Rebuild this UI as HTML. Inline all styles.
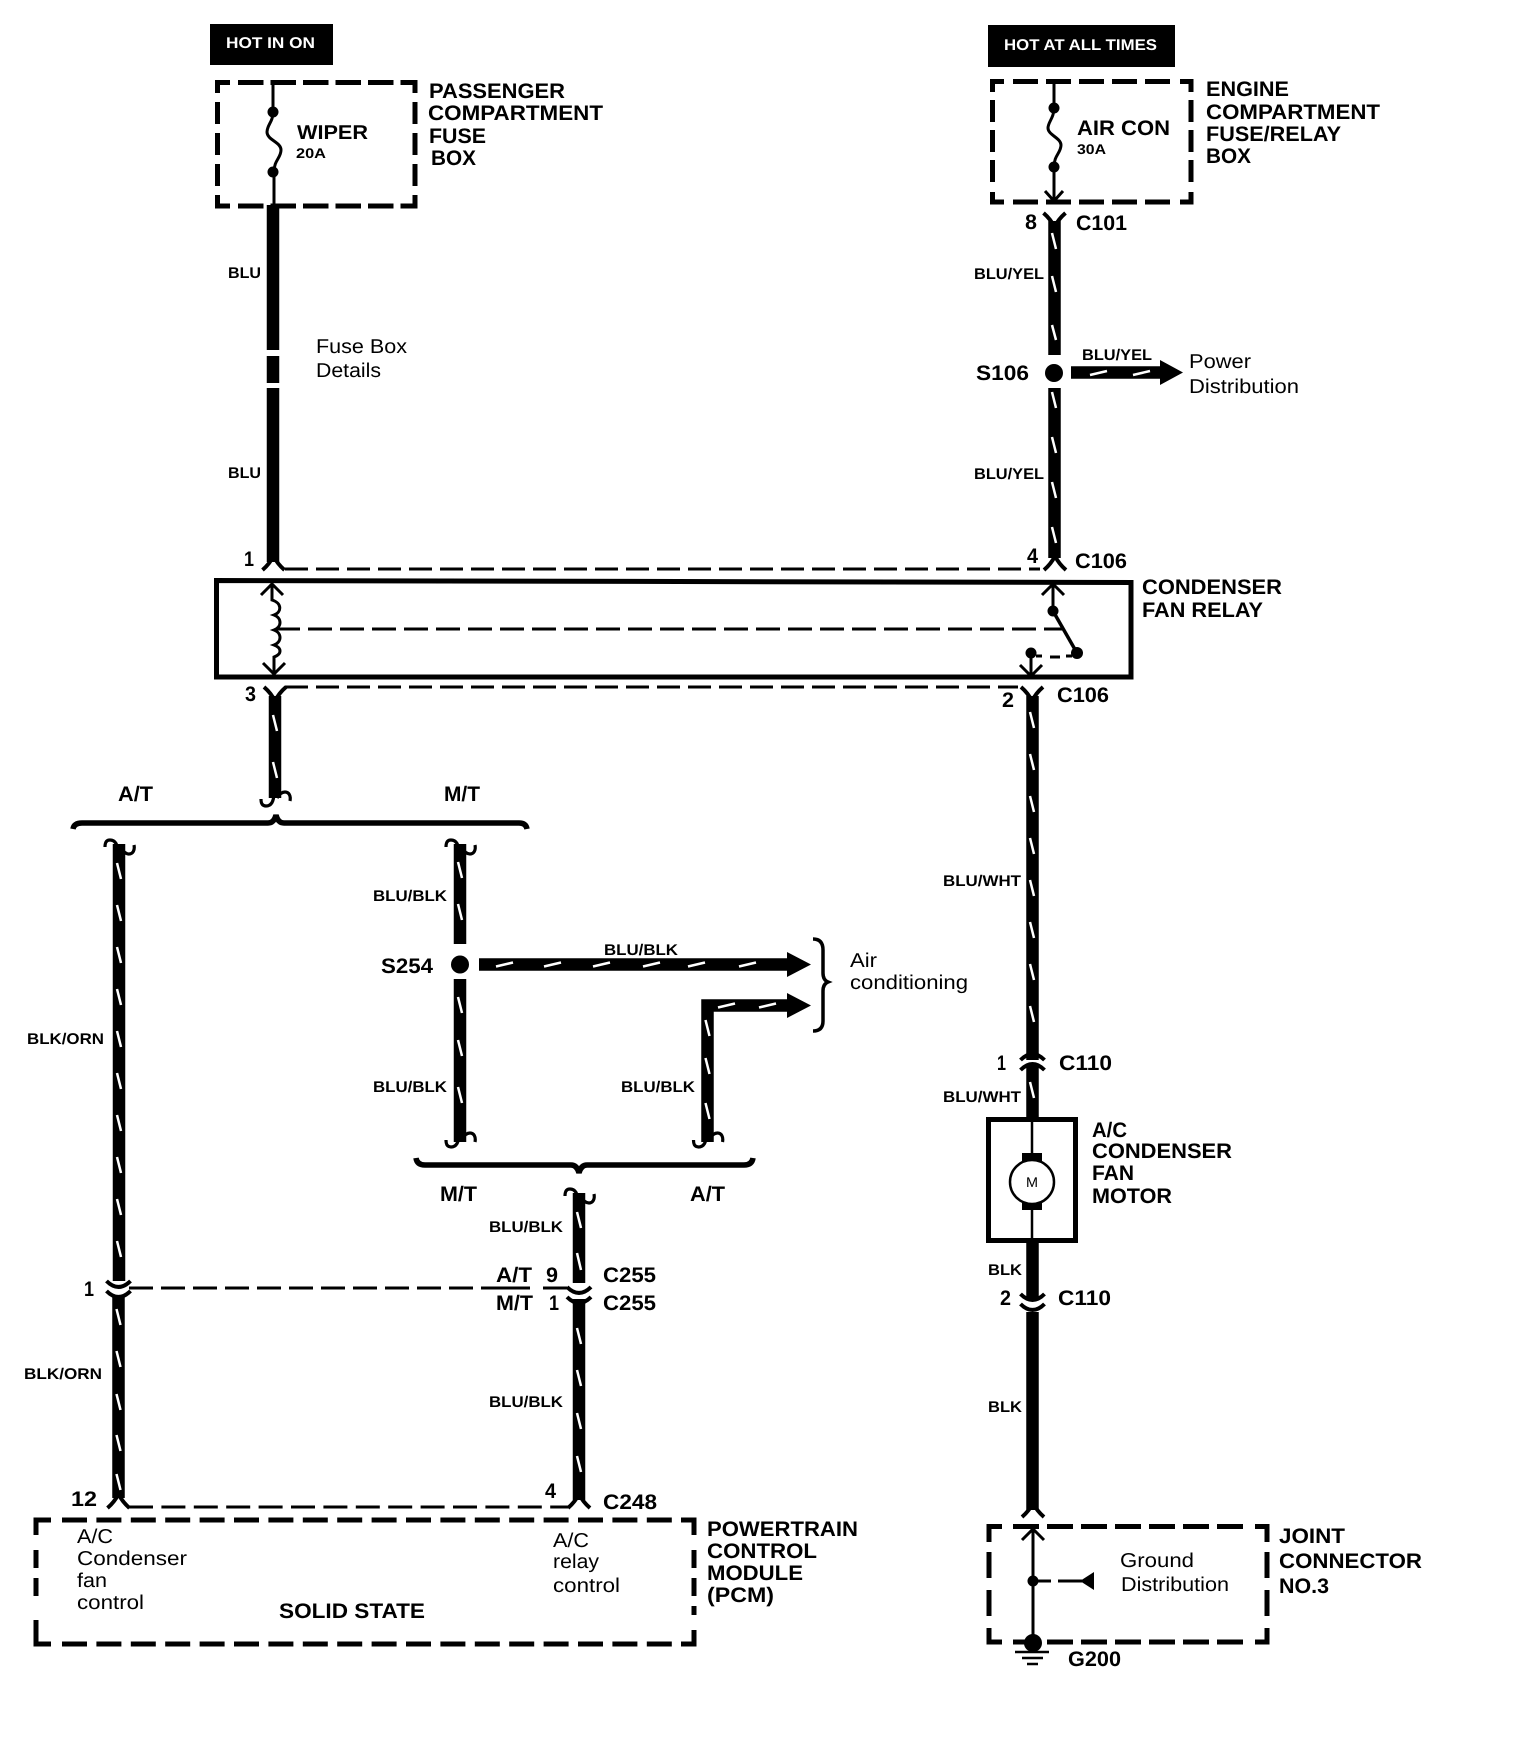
<!DOCTYPE html>
<html><head><meta charset="utf-8"><title>Condenser fan circuit</title>
<style>
html,body{margin:0;padding:0;background:#fff;width:1520px;height:1756px;overflow:hidden}
svg{display:block}
text{font-family:"Liberation Sans",sans-serif;fill:#000;text-rendering:geometricPrecision}
.b{font-weight:bold}
.L{font-weight:bold;font-size:21px}
.W{font-weight:bold;font-size:15.5px}
.R{font-size:20px}
.d{fill:none;stroke:#000;stroke-width:5}
.t{fill:none;stroke:#000;stroke-width:3}
.w{stroke:#000;stroke-width:12.5;fill:none}
.s{stroke:#fff;stroke-width:2.5;fill:none}
</style></head><body>
<svg width="1520" height="1756" viewBox="0 0 1520 1756" xmlns="http://www.w3.org/2000/svg">
<defs>
<g id="h"><path d="M-1 -10C-1 0-4 4-9 4C-13 4-14 1-14-3M2-4C5-9 8-10 10-10C14-10 16-6 15-1" fill="none" stroke="#000" stroke-width="3.2"/></g>
<g id="f"><path d="M-11 4Q-4-2 0-10Q4-2 11 4" fill="none" stroke="#000" stroke-width="4"/></g>
<g id="c"><path d="M-12-8Q0 4 12-8M-12 2Q0 14 12 2" fill="none" stroke="#000" stroke-width="4"/></g>
<g id="a"><path d="M-11 11L0 0L11 11M0 0V12" fill="none" stroke="#000" stroke-width="3"/></g>
</defs>
<rect width="1520" height="1756" fill="#fff"/>

<!-- power tags -->
<rect x="210" y="24" width="123" height="41" fill="#000"/>
<text x="226" y="48" class="b" font-size="15.5" style="fill:#fff" textLength="89" lengthAdjust="spacingAndGlyphs">HOT IN ON</text>
<rect x="988" y="25" width="187" height="42" fill="#000"/>
<text x="1004" y="50" class="b" font-size="15.5" style="fill:#fff" textLength="153" lengthAdjust="spacingAndGlyphs">HOT AT ALL TIMES</text>

<!-- passenger box -->
<path class="d" d="M217.5 93V82.5H230M403 82.5H415V93M415 195V206H403M230 206H217.5V195"/>
<path class="d" stroke-dasharray="25.5 7" d="M238 82.5H403M238 206H403"/>
<path class="d" stroke-dasharray="22 9" d="M217.5 102V190M415 102V190"/>
<path class="t" d="M273 82V112C273 122 267 125 267 132C267 140 281 142 281 150C281 158 274 160 274 172V206"/>
<circle cx="273" cy="112" r="5.5"/><circle cx="273" cy="172" r="5.5"/>
<text x="297" y="139" class="b" font-size="20" textLength="71" lengthAdjust="spacingAndGlyphs">WIPER</text>
<text x="296" y="158" class="b" font-size="14" textLength="30" lengthAdjust="spacingAndGlyphs">20A</text>
<text x="429" y="98" class="L" textLength="136" lengthAdjust="spacingAndGlyphs">PASSENGER</text>
<text x="428" y="120" class="L" textLength="175" lengthAdjust="spacingAndGlyphs">COMPARTMENT</text>
<text x="429" y="143" class="L" textLength="57" lengthAdjust="spacingAndGlyphs">FUSE</text>
<text x="431" y="165" class="L" textLength="45" lengthAdjust="spacingAndGlyphs">BOX</text>

<!-- engine box -->
<path class="d" d="M992.5 92V81.5H1004M1180 81.5H1191V92M1191 192V202H1180M1004 202H992.5V192"/>
<path class="d" stroke-dasharray="25 8" d="M1013 81.5H1171M1013 202H1171"/>
<path class="d" stroke-dasharray="22 8" d="M992.5 100V184M1191 100V184"/>
<path class="t" d="M1054 82V108C1054 118 1048 122 1048 128C1048 135 1061 138 1061 145C1061 153 1054 155 1054 167V203"/>
<path class="t" d="M1045 191L1054 201L1063 191"/>
<circle cx="1054" cy="108" r="5.5"/><circle cx="1054" cy="167" r="5.5"/>
<text x="1077" y="135" class="b" font-size="21" textLength="93" lengthAdjust="spacingAndGlyphs">AIR CON</text>
<text x="1077" y="154" class="b" font-size="14" textLength="29" lengthAdjust="spacingAndGlyphs">30A</text>
<text x="1206" y="96" class="L" textLength="83" lengthAdjust="spacingAndGlyphs">ENGINE</text>
<text x="1206" y="119" class="L" textLength="174" lengthAdjust="spacingAndGlyphs">COMPARTMENT</text>
<text x="1206" y="141" class="L" textLength="135" lengthAdjust="spacingAndGlyphs">FUSE/RELAY</text>
<text x="1206" y="163" class="L" textLength="45" lengthAdjust="spacingAndGlyphs">BOX</text>

<!-- left top wire -->
<path class="w" d="M273 205V350M273 356V383M273 388V562"/>
<text x="228" y="278" class="W" textLength="33" lengthAdjust="spacingAndGlyphs">BLU</text>
<text x="228" y="478" class="W" textLength="33" lengthAdjust="spacingAndGlyphs">BLU</text>
<text x="316" y="353" class="R" textLength="91" lengthAdjust="spacingAndGlyphs">Fuse Box</text>
<text x="316" y="377" class="R" textLength="65" lengthAdjust="spacingAndGlyphs">Details</text>

<!-- right top wire -->
<path class="w" d="M1054.5 221V355M1054.5 388V558"/>
<use href="#f" transform="translate(1054.5 217) scale(1 -1)"/>
<text x="1025" y="229" class="L" textLength="12" lengthAdjust="spacingAndGlyphs">8</text>
<text x="1076" y="230" class="L" textLength="51" lengthAdjust="spacingAndGlyphs">C101</text>
<text x="974" y="279" class="W" textLength="70" lengthAdjust="spacingAndGlyphs">BLU/YEL</text>
<text x="974" y="479" class="W" textLength="70" lengthAdjust="spacingAndGlyphs">BLU/YEL</text>
<circle cx="1054" cy="373" r="9"/>
<text x="976" y="380" class="L" textLength="53" lengthAdjust="spacingAndGlyphs">S106</text>
<path class="w" d="M1071 372.5H1162"/>
<path d="M1160 360L1183 372.5L1160 385Z"/>
<text x="1082" y="360" class="W" textLength="70" lengthAdjust="spacingAndGlyphs">BLU/YEL</text>
<text x="1189" y="368" class="R" textLength="62" lengthAdjust="spacingAndGlyphs">Power</text>
<text x="1189" y="393" class="R" textLength="110" lengthAdjust="spacingAndGlyphs">Distribution</text>

<!-- upper C106 -->
<use href="#f" transform="translate(273.5 566)"/>
<use href="#f" transform="translate(1055 566)"/>
<path d="M285 569H1040" fill="none" stroke="#000" stroke-width="3" stroke-dasharray="23 8"/>
<text x="244" y="566" class="L" textLength="10" lengthAdjust="spacingAndGlyphs">1</text>
<text x="1027" y="563" class="L" textLength="11" lengthAdjust="spacingAndGlyphs">4</text>
<text x="1075" y="568" class="L" textLength="52" lengthAdjust="spacingAndGlyphs">C106</text>

<!-- relay -->
<path d="M216.5 580.5L1131 582.5V677H216.5Z" fill="none" stroke="#000" stroke-width="5"/>
<text x="1142" y="594" class="L" textLength="140" lengthAdjust="spacingAndGlyphs">CONDENSER</text>
<text x="1142" y="617" class="L" textLength="121" lengthAdjust="spacingAndGlyphs">FAN RELAY</text>
<use href="#a" transform="translate(272 584)"/>
<use href="#a" transform="translate(274 674) scale(1 -1)"/>
<path class="t" d="M272 584V600C282 603 282 612 274 615C282 618 282 627 274 630C282 633 282 642 274 645C282 648 282 654 274 657V674"/>
<path d="M276 629H1062" fill="none" stroke="#000" stroke-width="3" stroke-dasharray="24 8"/>
<use href="#a" transform="translate(1053 584)"/>
<path class="t" d="M1053 584V611"/>
<path d="M1053 611L1077 653" fill="none" stroke="#000" stroke-width="3.5"/>
<circle cx="1053" cy="611" r="5.5"/><circle cx="1077" cy="653" r="6"/>
<circle cx="1031" cy="653" r="5.5"/>
<path class="t" d="M1031 653V676"/>
<use href="#a" transform="translate(1031 676) scale(1 -1)"/>
<path d="M1036 656H1042M1050 657H1060M1066 656H1072" fill="none" stroke="#000" stroke-width="3"/>

<!-- lower C106 -->
<path d="M285 687H1018" fill="none" stroke="#000" stroke-width="3" stroke-dasharray="23 8"/>
<use href="#f" transform="translate(275 691) scale(1 -1)"/>
<use href="#f" transform="translate(1032 691) scale(1 -1)"/>
<text x="245" y="701" class="L" textLength="11" lengthAdjust="spacingAndGlyphs">3</text>
<text x="1002" y="707" class="L" textLength="12" lengthAdjust="spacingAndGlyphs">2</text>
<text x="1057" y="702" class="L" textLength="52" lengthAdjust="spacingAndGlyphs">C106</text>

<!-- A/T M/T split -->
<path class="w" d="M275 696V798"/>
<use href="#h" transform="translate(275 802)"/>
<text x="118" y="801" class="b" font-size="21" textLength="35" lengthAdjust="spacingAndGlyphs">A/T</text>
<text x="444" y="801" class="b" font-size="21" textLength="36" lengthAdjust="spacingAndGlyphs">M/T</text>
<path d="M73 829Q74 823 82 823H268Q274 823 276 815Q278 823 284 823H519Q526 823 527 829" fill="none" stroke="#000" stroke-width="5.5"/>
<use href="#h" transform="translate(119 844) scale(1 -1)"/>
<use href="#h" transform="translate(460 844) scale(1 -1)"/>

<!-- left wire -->
<path class="w" d="M119 844V1281M118.5 1297V1498"/>
<text x="27" y="1044" class="W" textLength="77" lengthAdjust="spacingAndGlyphs">BLK/ORN</text>
<text x="24" y="1379" class="W" textLength="78" lengthAdjust="spacingAndGlyphs">BLK/ORN</text>
<use href="#c" transform="translate(118.5 1289)"/>
<text x="84" y="1296" class="L" textLength="10" lengthAdjust="spacingAndGlyphs">1</text>
<path d="M129 1288H498" fill="none" stroke="#000" stroke-width="3" stroke-dasharray="24 8"/>
<path d="M498 1288H530M543 1288H567" fill="none" stroke="#000" stroke-width="3"/>

<!-- M/T wire -->
<path class="w" d="M460 844V944M460 979V1142"/>
<use href="#h" transform="translate(460 1143)"/>
<circle cx="460" cy="964.5" r="9"/>
<text x="373" y="901" class="W" textLength="74" lengthAdjust="spacingAndGlyphs">BLU/BLK</text>
<text x="373" y="1092" class="W" textLength="74" lengthAdjust="spacingAndGlyphs">BLU/BLK</text>
<text x="381" y="973" class="L" textLength="52" lengthAdjust="spacingAndGlyphs">S254</text>
<path class="w" d="M479 964.5H789"/>
<path d="M787 952L811 964.5L787 977Z"/>
<text x="604" y="955" class="W" textLength="74" lengthAdjust="spacingAndGlyphs">BLU/BLK</text>

<!-- A/T riser -->
<path class="w" d="M707.5 1142V1005.5H789"/>
<path d="M787 993L811 1005.5L787 1018Z"/>
<use href="#h" transform="translate(707.5 1143)"/>
<text x="621" y="1092" class="W" textLength="74" lengthAdjust="spacingAndGlyphs">BLU/BLK</text>
<path d="M813 944Q823 944 823 955V978Q823 985 828 987Q823 989 823 996V1026Q823 1036 813 1036" fill="none" stroke="#000" stroke-width="3.5" transform="translate(0 -5)"/>
<text x="850" y="967" class="R" textLength="27" lengthAdjust="spacingAndGlyphs">Air</text>
<text x="850" y="989" class="R" textLength="118" lengthAdjust="spacingAndGlyphs">conditioning</text>

<!-- lower brace -->
<path d="M416 1158Q417 1165 425 1165H571Q577 1165 579 1173Q581 1165 587 1165H744Q752 1165 753 1158" fill="none" stroke="#000" stroke-width="5.5"/>
<text x="440" y="1201" class="b" font-size="21" textLength="37" lengthAdjust="spacingAndGlyphs">M/T</text>
<text x="690" y="1201" class="b" font-size="21" textLength="35" lengthAdjust="spacingAndGlyphs">A/T</text>
<use href="#h" transform="translate(579 1193) scale(1 -1)"/>
<path class="w" d="M579 1193V1283M579 1299V1500"/>
<text x="489" y="1232" class="W" textLength="74" lengthAdjust="spacingAndGlyphs">BLU/BLK</text>
<text x="489" y="1407" class="W" textLength="74" lengthAdjust="spacingAndGlyphs">BLU/BLK</text>
<text x="496" y="1282" class="L" textLength="36" lengthAdjust="spacingAndGlyphs">A/T</text>
<text x="546" y="1282" class="L" textLength="12" lengthAdjust="spacingAndGlyphs">9</text>
<text x="603" y="1282" class="L" textLength="53" lengthAdjust="spacingAndGlyphs">C255</text>
<text x="496" y="1310" class="L" textLength="37" lengthAdjust="spacingAndGlyphs">M/T</text>
<text x="549" y="1310" class="L" textLength="10" lengthAdjust="spacingAndGlyphs">1</text>
<text x="603" y="1310" class="L" textLength="53" lengthAdjust="spacingAndGlyphs">C255</text>
<use href="#c" transform="translate(579 1295)"/>

<!-- C248 -->
<use href="#f" transform="translate(118.5 1504)"/>
<use href="#f" transform="translate(579 1504)"/>
<path d="M129 1507H568" fill="none" stroke="#000" stroke-width="3" stroke-dasharray="24 8.4"/>
<text x="71" y="1506" class="L" textLength="26" lengthAdjust="spacingAndGlyphs">12</text>
<text x="545" y="1498" class="L" textLength="11" lengthAdjust="spacingAndGlyphs">4</text>
<text x="603" y="1509" class="L" textLength="54" lengthAdjust="spacingAndGlyphs">C248</text>

<!-- PCM -->
<path class="d" d="M36 1535V1520H51M681 1520H694V1535M694 1630V1644H681M51 1644H36V1620"/>
<path class="d" stroke-dasharray="25 9.4" d="M62 1520H673M62 1644H673"/>
<path class="d" stroke-dasharray="18 10" d="M36 1550V1602M694 1550V1615"/>
<text x="77" y="1543" class="R" textLength="36" lengthAdjust="spacingAndGlyphs">A/C</text>
<text x="77" y="1565" class="R" textLength="110" lengthAdjust="spacingAndGlyphs">Condenser</text>
<text x="77" y="1587" class="R" textLength="30" lengthAdjust="spacingAndGlyphs">fan</text>
<text x="77" y="1609" class="R" textLength="67" lengthAdjust="spacingAndGlyphs">control</text>
<text x="553" y="1547" class="R" textLength="36" lengthAdjust="spacingAndGlyphs">A/C</text>
<text x="553" y="1568" class="R" textLength="46" lengthAdjust="spacingAndGlyphs">relay</text>
<text x="553" y="1592" class="R" textLength="67" lengthAdjust="spacingAndGlyphs">control</text>
<text x="279" y="1618" class="L" textLength="146" lengthAdjust="spacingAndGlyphs">SOLID STATE</text>
<text x="707" y="1536" class="L" textLength="151" lengthAdjust="spacingAndGlyphs">POWERTRAIN</text>
<text x="707" y="1558" class="L" textLength="110" lengthAdjust="spacingAndGlyphs">CONTROL</text>
<text x="707" y="1580" class="L" textLength="96" lengthAdjust="spacingAndGlyphs">MODULE</text>
<text x="707" y="1602" class="L" textLength="67" lengthAdjust="spacingAndGlyphs">(PCM)</text>

<!-- right lower wire -->
<path class="w" d="M1032.5 696V1060M1032.5 1064V1118M1032.5 1243V1300M1032.5 1312V1510"/>
<use href="#c" transform="translate(1032.5 1062) scale(1 -1)"/>
<use href="#c" transform="translate(1032.5 1302)"/>
<text x="943" y="886" class="W" textLength="78" lengthAdjust="spacingAndGlyphs">BLU/WHT</text>
<text x="943" y="1102" class="W" textLength="78" lengthAdjust="spacingAndGlyphs">BLU/WHT</text>
<text x="997" y="1070" class="L" textLength="9" lengthAdjust="spacingAndGlyphs">1</text>
<text x="1059" y="1070" class="L" textLength="53" lengthAdjust="spacingAndGlyphs">C110</text>

<!-- motor -->
<rect x="988.5" y="1119.5" width="87" height="121" fill="#fff" stroke="#000" stroke-width="5"/>
<path d="M1032 1120V1155M1032 1208V1241" fill="none" stroke="#000" stroke-width="2.5"/>
<rect x="1022" y="1153" width="20" height="9"/><rect x="1022" y="1201" width="20" height="9"/>
<circle cx="1032" cy="1182" r="22" fill="#fff" stroke="#000" stroke-width="2.5"/>
<text x="1026" y="1187" font-size="14" textLength="12" lengthAdjust="spacingAndGlyphs">M</text>
<text x="1092" y="1137" class="L" textLength="35" lengthAdjust="spacingAndGlyphs">A/C</text>
<text x="1092" y="1158" class="L" textLength="140" lengthAdjust="spacingAndGlyphs">CONDENSER</text>
<text x="1092" y="1180" class="L" textLength="42" lengthAdjust="spacingAndGlyphs">FAN</text>
<text x="1092" y="1203" class="L" textLength="80" lengthAdjust="spacingAndGlyphs">MOTOR</text>
<text x="988" y="1275" class="W" textLength="34" lengthAdjust="spacingAndGlyphs">BLK</text>
<text x="1000" y="1305" class="L" textLength="11" lengthAdjust="spacingAndGlyphs">2</text>
<text x="1058" y="1305" class="L" textLength="53" lengthAdjust="spacingAndGlyphs">C110</text>
<text x="988" y="1412" class="W" textLength="34" lengthAdjust="spacingAndGlyphs">BLK</text>
<use href="#f" transform="translate(1033 1513)"/>

<!-- joint connector -->
<path class="d" d="M989 1542V1526.5H1002M1255 1526.5H1267V1542M1267 1628V1642H1255M1002 1642H989V1628"/>
<path class="d" stroke-dasharray="26 8" d="M1013 1526.5H1248M1013 1642H1248"/>
<path class="d" stroke-dasharray="26 12" d="M989 1552V1617M1267 1552V1617"/>
<use href="#a" transform="translate(1033 1529)"/>
<path class="t" d="M1033 1529V1640M1033 1581H1051M1058 1581H1082"/>
<circle cx="1033" cy="1581" r="5.5"/>
<path d="M1080 1581L1094 1572V1590Z"/>
<circle cx="1033" cy="1643" r="9"/>
<path d="M1015 1652H1049M1022 1658H1043M1027 1664H1038" fill="none" stroke="#000" stroke-width="2.5"/>
<text x="1068" y="1666" class="L" textLength="53" lengthAdjust="spacingAndGlyphs">G200</text>
<text x="1120" y="1567" class="R" textLength="74" lengthAdjust="spacingAndGlyphs">Ground</text>
<text x="1121" y="1591" class="R" textLength="108" lengthAdjust="spacingAndGlyphs">Distribution</text>
<text x="1279" y="1543" class="L" textLength="66" lengthAdjust="spacingAndGlyphs">JOINT</text>
<text x="1279" y="1568" class="L" textLength="143" lengthAdjust="spacingAndGlyphs">CONNECTOR</text>
<text x="1279" y="1593" class="L" textLength="50" lengthAdjust="spacingAndGlyphs">NO.3</text>

<!-- white stripes on wires -->
<path class="s" d="M1052 233l4 16M1052 276l4 16M1052 325l4 15M1052 392l4 16M1052 437l4 16M1052 482l4 16M1052 527l4 16
M273 715l4 16M273 762l4 16
M1030 712l4 16M1030 754l4 16M1030 796l4 16M1030 838l4 16M1030 880l4 16M1030 922l4 16M1030 964l4 16M1030 1006l4 16M1030 1082l4 16
M117 863l4 16M117 905l4 16M117 947l4 16M117 989l4 16M117 1031l4 16M117 1073l4 16M117 1115l4 16M117 1157l4 16M117 1199l4 16M117 1241l4 16
M116.5 1309l4 16M116.5 1351l4 16M116.5 1394l4 16M116.5 1435l4 16M116.5 1474l4 16
M458 862l4 16M458 904l4 16M458 997l4 16M458 1040l4 16M458 1087l4 16
M705.5 1020l4 16M705.5 1058l4 16M705.5 1103l4 16
M577 1212l4 16M577 1253l4 17M577 1328l4 16M577 1370l4 16M577 1413l4 16M577 1456l4 16
M1090 375l17 -4M1133 375l17 -4
M496 966.5l17 -4M544 966.5l17 -4M593 966.5l17 -4M643 966.5l17 -4M688 966.5l17 -4M739 966.5l17 -4
M718 1007.5l17 -4M759 1007.5l17 -4"/>
</svg>
</body></html>
